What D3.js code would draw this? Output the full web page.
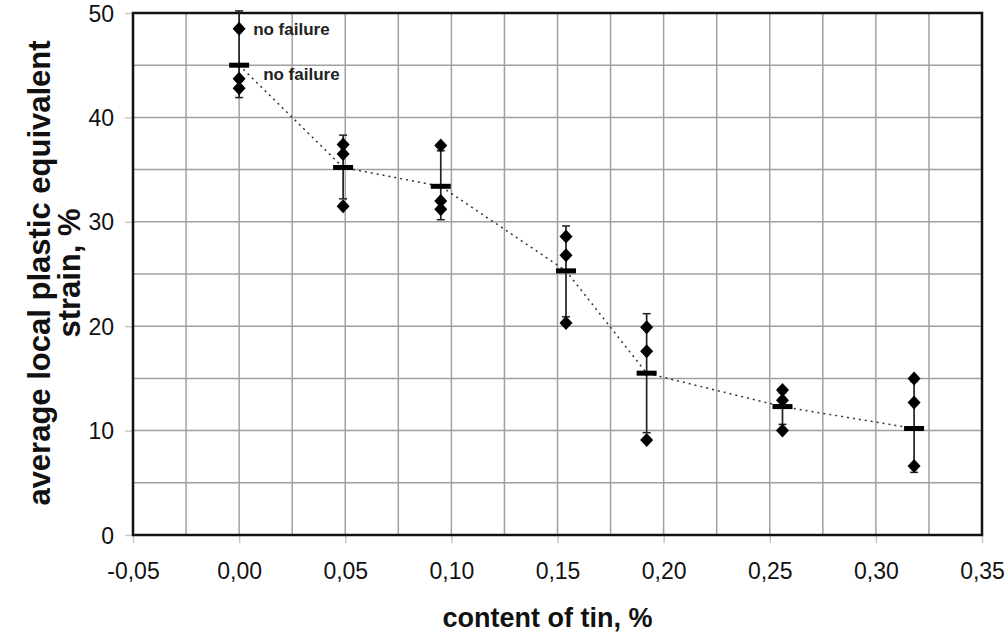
<!DOCTYPE html>
<html>
<head>
<meta charset="utf-8">
<script src="https://cdn.jsdelivr.net/npm/d3@7"></script>
<style>
  body { margin: 0; background: #fff; }
  text { font-family: "Liberation Sans", Arial, sans-serif; }
</style>
</head>
<body>
<div id="chart"></div>
<script>
// tin content of each group, %
var tinContent = [0.000, 0.049, 0.095, 0.154, 0.192, 0.256, 0.318];
// mean strain of each group, %
var meanStrain = [45.0, 35.2, 33.4, 25.3, 15.5, 12.3, 10.2];
// error bar limits
var errLow  = [41.9, 32.2, 30.2, 20.9, 9.8, 10.6, 6.0];
var errHigh = [50.2, 38.3, 36.8, 29.6, 21.2, 13.6, 14.7];
// single measurements of each group
var samples = [
  [48.5, 43.7, 42.8],
  [37.4, 36.5, 31.5],
  [37.3, 32.0, 31.2],
  [28.6, 26.8, 20.3],
  [19.9, 17.6, 9.1],
  [13.9, 12.9, 10.0],
  [15.0, 12.7, 6.6]
];
var xTicks = [-0.05, 0, 0.05, 0.10, 0.15, 0.20, 0.25, 0.30, 0.35];
var yTicks = [0, 10, 20, 30, 40, 50];
var notes = [
  { x: 0.000, y: 48.5, text: "no failure" },
  { x: 0.000, y: 44.2, text: "no failure" }
];

var margin = { top: 13, right: 26, bottom: 99, left: 133 },
    width = 1008 - margin.left - margin.right,
    height = 634 - margin.top - margin.bottom;

var svg = d3.select("#chart")
    .append("svg")
    .attr("width", 1008)
    .attr("height", 634)
    .append("g")
    .attr("transform", "translate(" + margin.left + "," + margin.top + ")");

var x = d3.scaleLinear().domain([-0.05, 0.35]).range([0, width]);
var y = d3.scaleLinear().domain([0, 50]).range([height, 0]);

// grid
svg.append("g")
    .selectAll("line")
    .data(d3.range(-0.025, 0.35, 0.025))
    .enter().append("line")
    .attr("x1", function (d) { return x(d); })
    .attr("x2", function (d) { return x(d); })
    .attr("y1", 0).attr("y2", height)
    .attr("stroke", "#a0a0a0").attr("stroke-width", 1.5);
svg.append("g")
    .selectAll("line")
    .data(d3.range(5, 50, 5))
    .enter().append("line")
    .attr("y1", function (d) { return y(d); })
    .attr("y2", function (d) { return y(d); })
    .attr("x1", 0).attr("x2", width)
    .attr("stroke", "#a0a0a0").attr("stroke-width", 1.5);

// axes
var fmt = function (d) { return d3.format(".2f")(d).replace(".", ",").replace("−", "-"); };
var xAxis = svg.append("g")
    .attr("transform", "translate(0," + height + ")")
    .call(d3.axisBottom(x).tickValues(xTicks).tickFormat(fmt).tickSize(8).tickPadding(20));
var yAxis = svg.append("g")
    .call(d3.axisLeft(y).tickValues(yTicks).tickSize(8).tickPadding(11));
[xAxis, yAxis].forEach(function (a) {
    a.select(".domain").remove();
    a.selectAll(".tick line").attr("stroke", "#c8c8c8").attr("stroke-width", 1.5);
    a.selectAll(".tick text")
        .attr("font-family", "Liberation Sans, Arial, sans-serif")
        .attr("font-size", 23).attr("fill", "#111");
});
yAxis.selectAll(".tick text").attr("dy", "0.35em");

// frame
svg.append("rect")
    .attr("width", width).attr("height", height)
    .attr("fill", "none").attr("stroke", "#111").attr("stroke-width", 2.5);

// dotted trend through means
var line = d3.line()
    .x(function (d, i) { return x(tinContent[i]); })
    .y(function (d) { return y(d); });
svg.append("path")
    .datum(meanStrain)
    .attr("d", line)
    .attr("fill", "none")
    .attr("stroke", "#333")
    .attr("stroke-width", 1.5)
    .attr("stroke-dasharray", "2,4");

// error bars
var groups = svg.selectAll(".grp")
    .data(tinContent)
    .enter().append("g")
    .attr("class", "grp");
groups.append("line")
    .attr("x1", function (d) { return x(d); })
    .attr("x2", function (d) { return x(d); })
    .attr("y1", function (d, i) { return y(errLow[i]); })
    .attr("y2", function (d, i) { return y(errHigh[i]); })
    .attr("stroke", "#222").attr("stroke-width", 1.7);
[errLow, errHigh].forEach(function (arr) {
    groups.append("line")
        .attr("x1", function (d) { return x(d) - 4; })
        .attr("x2", function (d) { return x(d) + 4; })
        .attr("y1", function (d, i) { return y(arr[i]); })
        .attr("y2", function (d, i) { return y(arr[i]); })
        .attr("stroke", "#222").attr("stroke-width", 1.5);
});

// samples as diamonds
var pts = [];
samples.forEach(function (s, i) {
    s.forEach(function (v) { pts.push({ x: tinContent[i], y: v }); });
});
svg.selectAll(".pt")
    .data(pts)
    .enter().append("path")
    .attr("class", "pt")
    .attr("d", "M0,-7L6.5,0L0,7L-6.5,0Z")
    .attr("transform", function (d) { return "translate(" + x(d.x) + "," + y(d.y) + ")"; })
    .attr("fill", "#000");

// means as horizontal dashes
groups.append("rect")
    .attr("x", function (d) { return x(d) - 10; })
    .attr("y", function (d, i) { return y(meanStrain[i]) - 2.5; })
    .attr("width", 20).attr("height", 5)
    .attr("fill", "#000");

// notes
svg.selectAll(".note")
    .data(notes)
    .enter().append("text")
    .attr("x", function (d, i) { return x(d.x) + (i == 0 ? 14 : 24); })
    .attr("y", function (d) { return y(d.y) + 6; })
    .attr("font-size", 17).attr("font-weight", "bold").attr("fill", "#222")
    .text(function (d) { return d.text; });

// axis labels
svg.append("text")
    .attr("x", width / 2 - 10)
    .attr("y", height + 92)
    .style("text-anchor", "middle")
    .attr("font-size", 27).attr("font-weight", "bold").attr("fill", "#111")
    .text("content of tin, %");

var ylab = svg.append("text")
    .attr("transform", "rotate(-90)")
    .attr("y", -margin.left + 50)
    .style("text-anchor", "middle")
    .attr("font-size", 31).attr("font-weight", "bold").attr("fill", "#111");
ylab.append("tspan").attr("x", -height / 2 + 1).text("average local plastic equivalent");
ylab.append("tspan").attr("x", -height / 2 + 1).attr("dy", 30).text("strain, %");
</script>
</body>
</html>
